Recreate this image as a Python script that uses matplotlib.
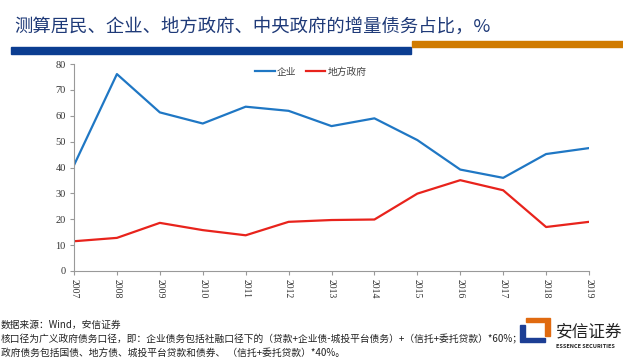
import matplotlib

matplotlib.use("Agg")
import matplotlib.pyplot as plt
from matplotlib.patches import Rectangle, Polygon

plt.rcParams["font.family"] = ["Noto Sans CJK SC", "DejaVu Sans"]

years = [str(y) for y in range(2007, 2020)]
corporate = [40.9, 76.1, 61.3, 57.0, 63.5, 61.9, 56.0, 59.0, 50.6, 39.2, 36.0, 45.2, 47.5]
local_gov = [11.5, 12.8, 18.6, 15.8, 13.8, 19.0, 19.7, 19.9, 29.9, 35.1, 31.2, 17.0, 19.0]
y_ticks = [0, 10, 20, 30, 40, 50, 60, 70, 80]

title = "测算居民、企业、地方政府、中央政府的增量债务占比，%"
notes = [
    "数据来源：Wind，安信证券",
    "核口径为广义政府债务口径，即：企业债务包括社融口径下的（贷款+企业债-城投平台债务）+（信托+委托贷款）*60%；",
    "政府债务包括国债、地方债、城投平台贷款和债券、 （信托+委托贷款）*40%。",
]

W, H = 623, 361
fig = plt.figure(figsize=(W / 100, H / 100), dpi=100)


def fx(px):
    return px / W


def fy(py):
    return 1 - py / H


# header
fig.text(fx(14), fy(28), title, fontsize=13.2, color="#1f3a78", va="center", ha="left")
fig.patches.append(Rectangle((fx(11), fy(54)), fx(400), 7 / H, transform=fig.transFigure,
                             color="#0b3d91", zorder=1))
fig.patches.append(Rectangle((fx(412), fy(47)), fx(211), 6 / H, transform=fig.transFigure,
                             color="#d07b00", zorder=1))

ax = fig.add_axes([fx(74), fy(271), fx(589 - 74), (271 - 64) / H])
x = range(len(years))
ax.plot(x, corporate, color="#1f77c4", lw=1.6, label="企业")
ax.plot(x, local_gov, color="#e8231c", lw=1.6, label="地方政府")

ax.set_xlim(0, len(years) - 1)
ax.set_ylim(0, 80)
ax.set_yticks(y_ticks)
ax.set_xticks(list(x))
ax.set_xticklabels(years, rotation=-90, fontfamily="Liberation Serif", fontsize=7, color="#333333")
ax.set_yticklabels([str(v) for v in y_ticks], fontfamily="Liberation Serif", fontsize=7.5,
                   color="#333333")
for side in ("top", "right"):
    ax.spines[side].set_visible(False)
for side in ("left", "bottom"):
    ax.spines[side].set_color("#999999")
    ax.spines[side].set_linewidth(0.8)
ax.tick_params(axis="both", direction="out", length=3, color="#999999", pad=3)

ax.legend(loc="upper center", bbox_to_anchor=(0.46, 1.03), ncol=2, frameon=False,
          fontsize=7, handlelength=2.0, handletextpad=0.2, columnspacing=1.0,
          labelcolor="#444444")

# footer notes
for i, line in enumerate(notes):
    fig.text(fx(1), fy(325 + i * 14), line, fontsize=7, color="#222222", va="center", ha="left")

# logo
fig.patches.append(Polygon([[fx(520), fy(342)], [fx(520), fy(325)], [fx(525), fy(325)],
                            [fx(525), fy(338)], [fx(545), fy(338)], [fx(545), fy(342)]],
                           closed=True, transform=fig.transFigure, color="#1c3e94"))
fig.patches.append(Polygon([[fx(526), fy(322)], [fx(526), fy(318)], [fx(550), fy(318)],
                            [fx(550), fy(336)], [fx(545), fy(336)], [fx(545), fy(322)]],
                           closed=True, transform=fig.transFigure, color="#e06a10"))
fig.text(fx(556), fy(332), "安信证券", fontsize=12, color="#222222", va="center", ha="left")
fig.text(fx(556), fy(347), "ESSENCE SECURITIES", fontsize=4, color="#222222", va="center",
         ha="left", fontweight="bold")

fig.savefig("out.png", dpi=100)
